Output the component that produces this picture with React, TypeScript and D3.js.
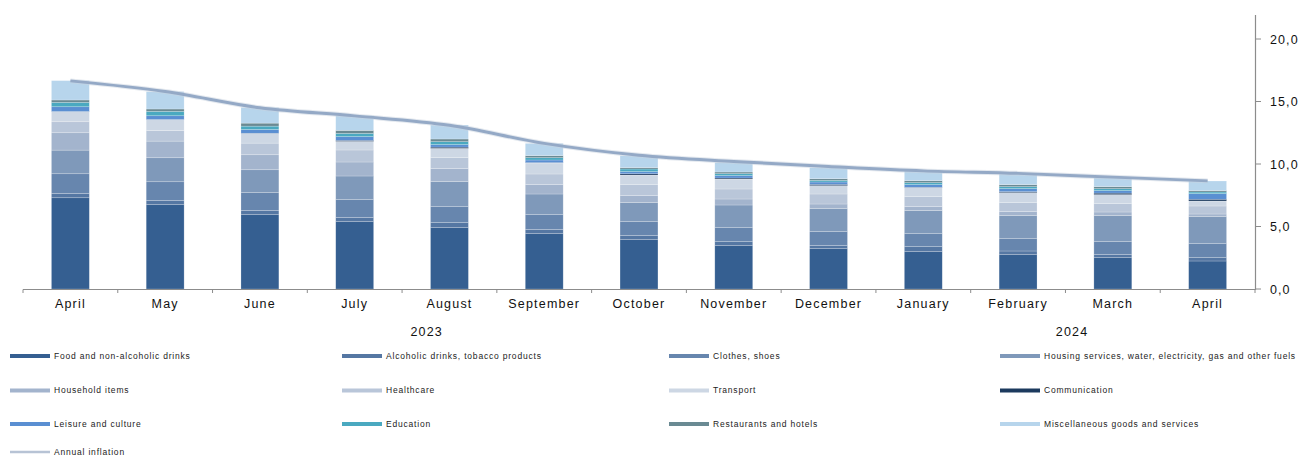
import React from 'react';
import * as d3 from 'd3';

// months shown on the x axis (Apr 2023 .. Apr 2024)
const months = ['April', 'May', 'June', 'July', 'August', 'September', 'October', 'November', 'December', 'January', 'February', 'March', 'April'];

// contributions to annual inflation, p.p.
const food = [7.30, 6.75, 5.95, 5.39, 4.91, 4.43, 3.95, 3.47, 3.23, 2.99, 2.75, 2.51, 2.24];
const alcohol = [0.35, 0.34, 0.34, 0.34, 0.40, 0.34, 0.34, 0.32, 0.26, 0.40, 0.29, 0.26, 0.27];
const clothes = [1.57, 1.49, 1.44, 1.44, 1.28, 1.18, 1.12, 1.12, 1.12, 1.04, 0.99, 1.04, 1.12];
const housing = [1.89, 1.92, 1.81, 1.87, 2.00, 1.65, 1.50, 1.81, 1.82, 1.84, 1.84, 2.06, 2.16];
const household = [1.39, 1.33, 1.20, 1.12, 1.04, 0.75, 0.56, 0.48, 0.37, 0.32, 0.32, 0.29, 0.21];
const healthcare = [0.88, 0.85, 0.93, 0.96, 0.88, 0.85, 0.88, 0.80, 0.80, 0.80, 0.72, 0.67, 0.64];
const transport = [0.80, 0.86, 0.77, 0.69, 0.74, 0.88, 0.77, 0.80, 0.67, 0.72, 0.80, 0.72, 0.40];
const communication = [0.02, 0.02, 0.02, 0.08, 0.10, 0.03, 0.10, 0.08, 0.10, 0.03, 0.08, 0.12, 0.14];
const leisure = [0.38, 0.30, 0.30, 0.30, 0.20, 0.21, 0.17, 0.19, 0.19, 0.21, 0.24, 0.20, 0.45];
const education = [0.35, 0.35, 0.27, 0.26, 0.24, 0.19, 0.21, 0.16, 0.13, 0.16, 0.16, 0.16, 0.13];
const restaurants = [0.19, 0.19, 0.24, 0.24, 0.21, 0.16, 0.11, 0.13, 0.13, 0.16, 0.16, 0.16, 0.11];
const misc = [1.55, 1.39, 1.25, 1.18, 1.12, 0.98, 0.96, 0.77, 0.90, 0.77, 0.85, 0.72, 0.77];

const annualInflation = [16.65, 15.8, 14.5, 13.85, 13.1, 11.65, 10.7, 10.2, 9.8, 9.45, 9.25, 8.95, 8.65];

const seriesNames = [
  'Food and non-alcoholic drinks',
  'Alcoholic drinks, tobacco products',
  'Clothes, shoes',
  'Housing services, water, electricity, gas and other fuels',
  'Household items',
  'Healthcare',
  'Transport',
  'Communication',
  'Leisure and culture',
  'Education',
  'Restaurants and hotels',
  'Miscellaneous goods and services',
];
const seriesValues = [food, alcohol, clothes, housing, household, healthcare, transport, communication, leisure, education, restaurants, misc];
const seriesColors = ['#355f91', '#5577a3', '#6786ae', '#7f99ba', '#a3b4cd', '#b9c6d9', '#cdd7e4', '#1c3a5e', '#5a8fd2', '#4aa9c0', '#6a8a93', '#b7d5ec'];

const yTicks = [0, 5, 10, 15, 20];
const years = [
  { label: '2023', pos: 4.26 },
  { label: '2024', pos: 11.07 },
];

const W = 1305;
const H = 458;
const FONT = 'Liberation Sans, Arial, sans-serif';

export default function App() {
  const x = d3.scaleBand<number>()
    .domain(d3.range(months.length))
    .range([23, 1255])
    .paddingInner(0.6)
    .paddingOuter(0.3);
  // plain band for boundaries / tick marks
  const xb = d3.scaleBand<number>().domain(d3.range(months.length)).range([23, 1255]);
  const y = d3.scaleLinear().domain([0, 22]).range([289, 14]);

  const rows = months.map((_, i) => {
    const r: Record<string, number> = {};
    seriesNames.forEach((n, k) => { r[n] = seriesValues[k][i]; });
    return r;
  });
  const stacked = d3.stack<Record<string, number>>().keys(seriesNames)(rows);

  const cx = (i: number) => (x(i) ?? 0) + x.bandwidth() / 2;
  const line = d3.line<number>()
    .x((_, i) => cx(i))
    .y(d => y(d))
    .curve(d3.curveMonotoneX);

  const legendCols = [10, 342, 669, 1000];
  const legendRows = [356, 390.5, 424, 452];
  const legendItems = [
    ...seriesNames.map((n, k) => ({ name: n, color: seriesColors[k], line: false })),
    { name: 'Annual inflation', color: '#b7c3d5', line: true },
  ];

  return (
    <svg width={W} height={H} style={{ position: 'absolute', left: 0, top: 0, background: '#fff' }} fontFamily={FONT}>
      {/* bars */}
      {stacked.map((s, k) => (
        <g key={s.key} fill={seriesColors[k]}>
          {s.map((d, i) => (
            <rect key={i} x={x(i)} width={x.bandwidth()} y={y(d[1])} height={Math.max(0, y(d[0]) - y(d[1]))}
              stroke="rgba(255,255,255,0.35)" strokeWidth={0.6} />
          ))}
        </g>
      ))}

      {/* annual inflation line */}
      <path d={line(annualInflation) ?? ''} fill="none" stroke="#c9d3e0" strokeWidth={5} strokeOpacity={0.5} />
      <path d={line(annualInflation) ?? ''} fill="none" stroke="#94a9c6" strokeWidth={3} />

      {/* x axis */}
      <line x1={23} x2={1255} y1={289.5} y2={289.5} stroke="#8c8c8c" strokeWidth={1.2} />
      {d3.range(months.length + 1).map(i => {
        const xx = i < months.length ? (xb(i) ?? 0) : 1255;
        return <line key={i} x1={xx} x2={xx} y1={289.5} y2={293} stroke="#8c8c8c" strokeWidth={1} />;
      })}
      {months.map((m, i) => (
        <text key={i} x={cx(i)} y={308} textAnchor="middle" fontSize={12.5} letterSpacing={1.2} fill="#111">{m}</text>
      ))}
      {years.map(yr => (
        <text key={yr.label} x={23 + xb.bandwidth() * yr.pos} y={336} textAnchor="middle" fontSize={12.5} letterSpacing={1.2} fill="#111">{yr.label}</text>
      ))}

      {/* right y axis */}
      <line x1={1255.5} x2={1255.5} y1={15} y2={290} stroke="#8c8c8c" strokeWidth={1.2} />
      {yTicks.map(t => (
        <g key={t}>
          <line x1={1255.5} x2={1261} y1={y(t)} y2={y(t)} stroke="#8c8c8c" strokeWidth={1} />
          <text x={1270} y={y(t) + 4.5} fontSize={12.5} letterSpacing={1.1} fill="#111">{d3.format('.1f')(t).replace('.', ',')}</text>
        </g>
      ))}

      {/* legend */}
      {legendItems.map((it, k) => {
        const lx = legendCols[k % 4];
        const ly = legendRows[Math.floor(k / 4)];
        return (
          <g key={it.name}>
            {it.line
              ? <line x1={lx} x2={lx + 40} y1={ly} y2={ly} stroke={it.color} strokeWidth={2.5} />
              : <rect x={lx} y={ly - 2} width={40} height={4} fill={it.color} />}
            <text x={lx + 44} y={ly + 2.8} fontSize={8.5} letterSpacing={0.8} fill="#222">{it.name}</text>
          </g>
        );
      })}
    </svg>
  );
}
